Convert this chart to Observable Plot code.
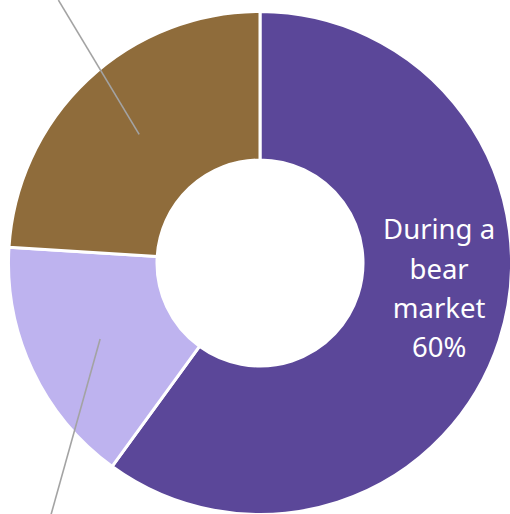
<!DOCTYPE html>
<html>
<head>
<meta charset="utf-8">
<script src="https://cdn.jsdelivr.net/npm/d3@7"></script>
<script src="https://cdn.jsdelivr.net/npm/@observablehq/plot@0.6"></script>
<style>
  body { margin: 0; background: #fff; }
  #chart svg { display: block; }
</style>
</head>
<body>
<div id="chart"></div>
<script>
// Share of slices, clockwise from 12 o'clock
const categories = ["During a bear market", "Early bull market", "Later bull market"];
const shares = [60, 16, 24];
const sliceColors = ["#5b4799", "#beb3ef", "#8f6c3b"];
// only the big slice carries an inside label; the others use leader lines to labels off-frame
const insideLabels = ["During a\nbear\nmarket", null, null];

const W = 510, H = 514;
const CX = 260, CY = 263;        // donut centre in pixels
const OUTER_R = 251.5, INNER_R = 103;
const MID_R = (OUTER_R + INNER_R) / 2;
const LEADER_END = [null, { angle: 219.6, r: 330 }, { angle: 322.5, r: 332 }];

const slices = d3.pie().sort(null).value((d) => d.share)(
  categories.map((category, i) => ({ category, share: shares[i], label: insideLabels[i], leader: LEADER_END[i] }))
);

// polar -> plot coordinates (pixels from centre, y pointing down)
const polar = (deg, r) => {
  const a = (deg * Math.PI) / 180;
  return [r * Math.sin(a), -r * Math.cos(a)];
};
const midDeg = (s) => (((s.startAngle + s.endAngle) / 2) * 180) / Math.PI;

const leaders = slices.filter((s) => s.data.leader).map((s) => {
  const [x1, y1] = polar(midDeg(s), MID_R);
  const [x2, y2] = polar(s.data.leader.angle, s.data.leader.r);
  return { category: s.data.category, x1, y1, x2, y2 };
});

const labels = slices.filter((s) => s.data.label).map((s) => {
  const [x, y] = polar(midDeg(s), MID_R);
  return { x, y, text: `${s.data.label}\n${s.data.share}%` };
});

function donutSlices(index, scales) {
  const k = scales.x(1) - scales.x(0);
  const arc = d3.arc().innerRadius(INNER_R * k).outerRadius(OUTER_R * k);
  const color = scales.color || ((c) => sliceColors[categories.indexOf(c)]);
  const g = d3.create("svg:g").attr("transform", `translate(${scales.x(0)},${scales.y(0)})`);
  g.selectAll("path")
    .data(slices)
    .join("path")
    .attr("d", arc)
    .attr("fill", (d) => color(d.data.category))
    .attr("stroke", "#fff")
    .attr("stroke-width", 3)
    .attr("stroke-linejoin", "round");
  return g.node();
}

const plot = Plot.plot({
  width: W,
  height: H,
  margin: 0,
  style: { fontFamily: "'Noto Sans', sans-serif", background: "#fff" },
  x: { type: "linear", domain: [-CX, W - CX], range: [0, W], axis: null },
  y: { type: "linear", domain: [-CY, H - CY], range: [0, H], axis: null },
  color: { type: "ordinal", domain: categories, range: sliceColors },
  marks: [
    donutSlices,
    Plot.link(leaders, {
      x1: "x1", y1: "y1", x2: "x2", y2: "y2",
      stroke: "#a3a3a3", strokeWidth: 1.6,
    }),
    Plot.text(labels, {
      x: "x", y: "y", text: "text",
      dx: 10, dy: -32.5,
      fill: "#fff", fontSize: 27.5, lineHeight: 1.43,
      textAnchor: "middle", lineAnchor: "middle",
    }),
  ],
});

document.getElementById("chart").appendChild(plot);
</script>
</body>
</html>
